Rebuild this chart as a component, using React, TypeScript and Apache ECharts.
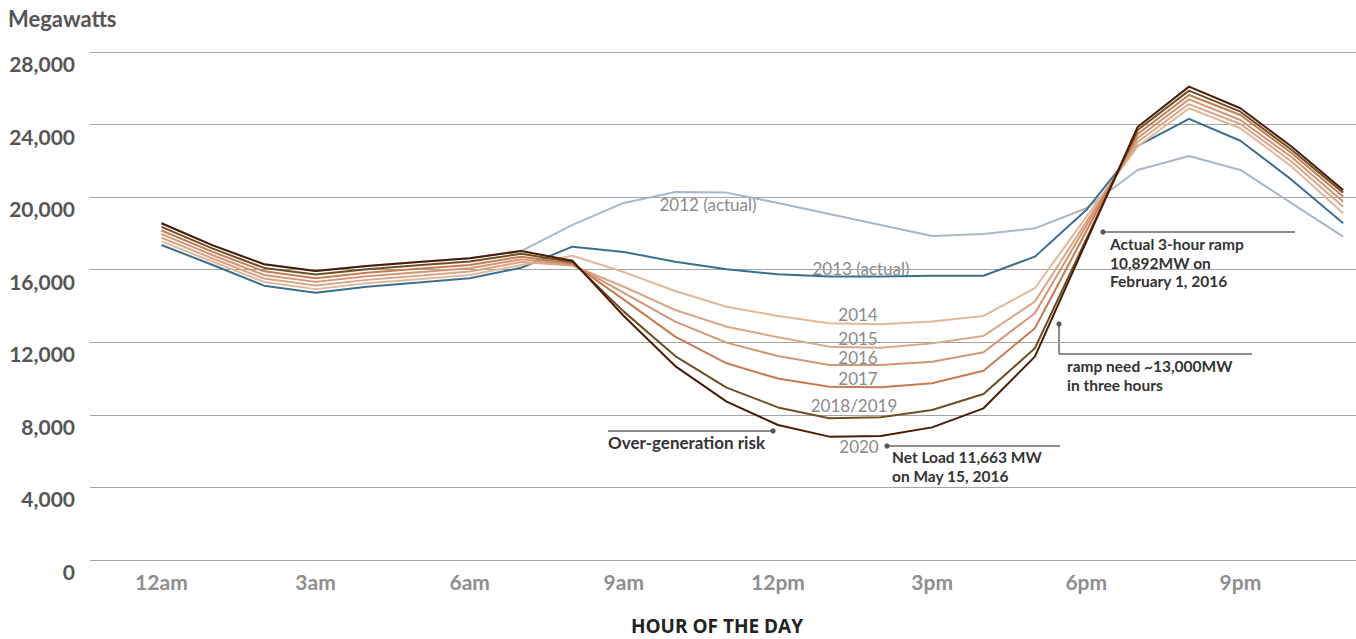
import React, { useEffect, useRef } from "react";
import * as echarts from "echarts";

const hours = [0, 1, 2, 3, 4, 5, 6, 7, 8, 9, 10, 11, 12, 13, 14, 15, 16, 17, 18, 19, 20, 21, 22, 23];

const y2012 = [18560, 17340, 16300, 15930, 16210, 16430, 16630, 17030, 18470, 19680, 20280, 20250, 19680, 19070, 18460, 17860, 17970, 18280, 19390, 21500, 22270, 21500, 19660, 17820];
const y2013 = [17360, 16260, 15120, 14730, 15060, 15290, 15530, 16110, 17270, 16980, 16440, 16020, 15750, 15620, 15620, 15670, 15670, 16720, 19290, 22820, 24310, 23110, 20950, 18560];
const y2014 = [17560, 16440, 15320, 14930, 15250, 15480, 15710, 16260, 16770, 15870, 14830, 13960, 13450, 13050, 12990, 13140, 13450, 14980, 18910, 22800, 24900, 23800, 21680, 19110];
const y2015 = [17760, 16620, 15510, 15130, 15440, 15670, 15900, 16420, 16230, 15060, 13780, 12860, 12280, 11760, 11700, 11940, 12350, 14240, 18640, 23040, 25130, 24030, 21950, 19470];
const y2016 = [17960, 16800, 15710, 15330, 15640, 15860, 16080, 16570, 16290, 14720, 13140, 11980, 11240, 10750, 10750, 10930, 11450, 13600, 18430, 23260, 25390, 24250, 22200, 19750];
const y2017 = [18160, 16980, 15910, 15530, 15830, 16050, 16260, 16720, 16340, 14350, 12310, 10840, 10000, 9550, 9520, 9740, 10430, 12770, 18120, 23480, 25630, 24530, 22420, 20030];
const y2018 = [18360, 17160, 16100, 15730, 16020, 16240, 16450, 16880, 16430, 13690, 11240, 9500, 8410, 7810, 7870, 8270, 9150, 11670, 17680, 23700, 25870, 24710, 22600, 20250];
const y2020 = [18560, 17340, 16300, 15930, 16210, 16430, 16630, 17030, 16500, 13450, 10690, 8730, 7440, 6800, 6830, 7310, 8360, 11210, 17540, 23870, 26090, 24900, 22780, 20390];

const seriesNames = ["2012 (actual)", "2013 (actual)", "2014", "2015", "2016", "2017", "2018/2019", "2020"];
const seriesValues = [y2012, y2013, y2014, y2015, y2016, y2017, y2018, y2020];
const seriesColors = ["#a8b6c7", "#3b6f8f", "#e2b899", "#d9a687", "#d29575", "#c77b52", "#6d4f22", "#4b1a07"];

const xTickHours = [0, 3, 6, 9, 12, 15, 18, 21];
const xTickLabels = ["12am", "3am", "6am", "9am", "12pm", "3pm", "6pm", "9pm"];

const FONT = "Lato, 'Noto Sans', sans-serif";

function txt(text: string, x: number, y: number, opts: any = {}) {
  return {
    type: "text",
    x,
    y,
    silent: true,
    style: {
      text,
      fill: opts.fill || "#333",
      font: `${opts.weight || "normal"} ${opts.size || 17}px ${opts.family || FONT}`,
      textAlign: opts.align || "left",
      textVerticalAlign: opts.valign || "middle",
    },
  };
}

function block(lines: string[], x: number, y0: number, step: number) {
  return lines.map((t, i) => txt(t, x, y0 + i * step, { weight: "bold", size: 15.5 }));
}

function line(x1: number, y1: number, x2: number, y2: number) {
  return {
    type: "line",
    silent: true,
    shape: { x1, y1, x2, y2 },
    style: { stroke: "#666", lineWidth: 1.5 },
  };
}

function dot(cx: number, cy: number) {
  return {
    type: "circle",
    silent: true,
    shape: { cx, cy, r: 2.6 },
    style: { fill: "#555" },
  };
}

export default function App() {
  const ref = useRef<HTMLDivElement>(null);

  useEffect(() => {
    if (!ref.current) return;
    const chart = echarts.init(ref.current, undefined, { renderer: "svg" });
    const labelGrey = "#8a8a8a";
    chart.setOption({
      animation: false,
      grid: { left: 90, right: 0, top: 52, bottom: 79, containLabel: false },
      xAxis: {
        type: "value",
        min: -1.39,
        max: 23.25,
        axisLine: { show: false },
        axisTick: { show: false },
        splitLine: { show: false },
        axisLabel: {
          customValues: xTickHours,
          formatter: (v: number) => xTickLabels[xTickHours.indexOf(v)] ?? "",
          margin: 11,
          fontSize: 21,
          fontWeight: "bold",
          fontFamily: FONT,
          color: "#8e8e8e",
        },
      },
      yAxis: {
        type: "value",
        min: 0,
        max: 28000,
        interval: 4000,
        axisLine: { show: false },
        axisTick: { show: false },
        splitLine: { lineStyle: { color: "#a3a3a3", width: 1 } },
        axisLabel: {
          align: "right",
          verticalAlign: "top",
          margin: 15,
          padding: [1, 0, 0, 0],
          fontSize: 21,
          fontWeight: "bold",
          fontFamily: FONT,
          color: "#555",
          formatter: (v: number) => v.toLocaleString("en-US"),
        },
      },
      series: seriesNames.map((name, i) => ({
        name,
        type: "line",
        showSymbol: false,
        symbol: "none",
        z: 2 + i,
        lineStyle: { color: seriesColors[i], width: 2 },
        itemStyle: { color: seriesColors[i] },
        data: hours.map((h, j) => [h, seriesValues[i][j]]),
      })),
      graphic: [
        txt("Megawatts", 8, 18, { weight: "bold", size: 22, fill: "#555" }),
        txt("HOUR OF THE DAY", 717, 626, { weight: "bold", size: 19, fill: "#222", align: "center", family: "'Open Sans', Lato, sans-serif" }),
        txt("2012 (actual)", 708, 204, { fill: labelGrey, align: "center" }),
        txt("2013 (actual)", 861, 268, { fill: labelGrey, align: "center" }),
        txt("2014", 858, 314, { fill: labelGrey, align: "center" }),
        txt("2015", 858, 338, { fill: labelGrey, align: "center" }),
        txt("2016", 858, 357, { fill: labelGrey, align: "center" }),
        txt("2017", 858, 378, { fill: labelGrey, align: "center" }),
        txt("2018/2019", 854, 405, { fill: labelGrey, align: "center" }),
        txt("2020", 859, 446, { fill: labelGrey, align: "center" }),
        line(608, 431, 773, 431),
        dot(773, 431),
        txt("Over-generation risk", 608, 442, { weight: "bold" }),
        line(887, 446, 1060, 446),
        dot(887, 446),
        ...block(["Net Load 11,663 MW", "on May 15, 2016"], 892, 457, 18.7),
        line(1103, 232, 1295, 232),
        dot(1103, 232),
        ...block(["Actual 3-hour ramp", "10,892MW on", "February 1, 2016"], 1110, 244, 18.7),
        line(1059, 324, 1059, 354),
        line(1059, 354, 1252, 354),
        dot(1059, 324),
        ...block(["ramp need ~13,000MW", "in three hours"], 1067, 366, 18.7),
      ],
    });
    return () => chart.dispose();
  }, []);

  return (
    <div
      ref={ref}
      style={{ position: "absolute", left: 0, top: 0, width: 1356, height: 639, background: "#fff" }}
    />
  );
}
